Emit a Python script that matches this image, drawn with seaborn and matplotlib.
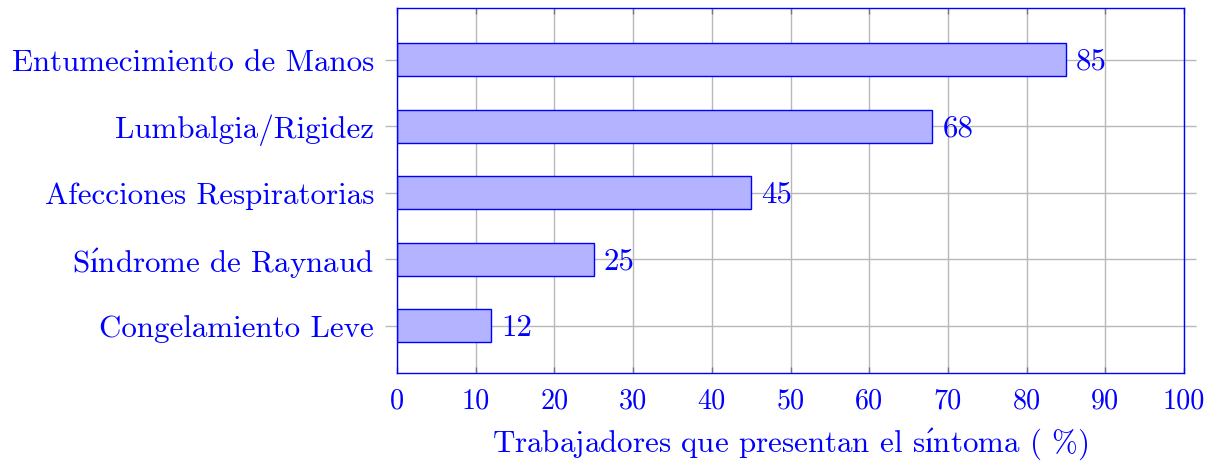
import matplotlib
matplotlib.use("Agg")
import matplotlib.pyplot as plt
import seaborn as sns
import pandas as pd

categories = ["Entumecimiento de Manos", "Lumbalgia/Rigidez", "Afecciones Respiratorias",
              "S$\\mathrm{\\acute{\u0131}}$ndrome de Raynaud", "Congelamiento Leve"]
values = [85, 68, 45, 25, 12]
x_ticks = [0, 10, 20, 30, 40, 50, 60, 70, 80, 90, 100]
x_label = "Trabajadores que presentan el s$\\mathrm{\\acute{\u0131}}$ntoma ( %)"

sns.set_theme(style="white")
plt.rcParams['font.family'] = ['cmr10', 'DejaVu Serif']
plt.rcParams['axes.formatter.use_mathtext'] = True
plt.rcParams['mathtext.fontset'] = 'cm'

BLUE = "#0000ff"
FS = 22.3
FS_X = 20.3

df = pd.DataFrame({"cat": categories, "val": values})

fig = plt.figure(figsize=(12.21, 4.67), dpi=100)
ax = fig.add_axes([397/1221, 1-373/467, (1184-397)/1221, (373-8)/467])

sns.barplot(data=df, y="cat", x="val", orient="h", ax=ax, width=0.5,
            color="#b3b3ff", saturation=1, edgecolor=BLUE, linewidth=1.0, zorder=3)

ax.set_xlim(0, 100)
ax.set_ylim(4.71, -0.78)
ax.set_xticks(x_ticks)
ax.set_xticklabels([str(t) for t in x_ticks])
ax.set_axisbelow(True)
ax.grid(True, axis="both", color="#b8b8b8", linewidth=1.0, zorder=0)

for i, v in enumerate(values):
    ax.text(v + 1.3, i + 0.03, str(v), va="center", ha="left", color=BLUE, fontsize=FS, zorder=4)

ax.set_xlabel(x_label, color=BLUE, fontsize=FS, labelpad=9)
ax.set_ylabel("")
ax.tick_params(axis="x", direction="in", length=4, width=1, color="#777777",
               top=True, bottom=True, labelcolor=BLUE, labelsize=FS_X, pad=11)
ax.tick_params(axis="y", direction="out", length=8.6, width=1, color="#b8b8b8",
               left=True, right=True, labelcolor=BLUE, labelsize=FS, pad=8)
for s in ax.spines.values():
    s.set_color(BLUE)
    s.set_linewidth(1.0)
    s.set_zorder(5)

fig.savefig("out.png", dpi=100)
